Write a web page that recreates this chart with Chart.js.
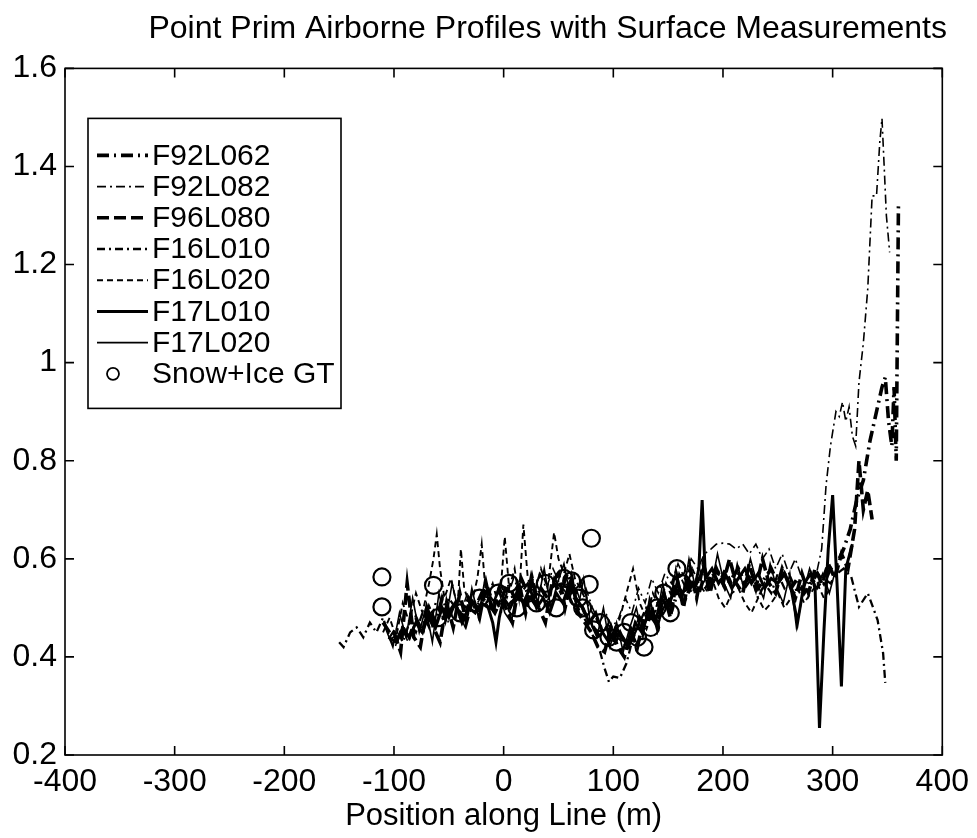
<!DOCTYPE html>
<html>
<head>
<meta charset="utf-8">
<script src="https://cdn.jsdelivr.net/npm/chart.js@4.4.1/dist/chart.umd.min.js"></script>
<style>
  html, body { margin: 0; padding: 0; background: #fff; }
  #wrap { width: 977px; height: 838px; }
</style>
</head>
<body>
<div id="wrap"><canvas id="myChart" width="977" height="838"></canvas></div>
<script>
// tick labels
var xTickLabels = ['-400', '-300', '-200', '-100', '0', '100', '200', '300', '400'];
var yTickLabels = ['0.2', '0.4', '0.6', '0.8', '1', '1.2', '1.4', '1.6'];

// F92L062 - thick dash-dot
var f92l062X = [-110,-104,-98,-92,-86,-80,-74,-68,-62,-56,
  -50,-44,-38,-32,-26,-20,-14,-8,-2,4,
  10,16,22,28,34,40,46,52,58,64,
  70,76,82,88,94,100,106,112,118,124,
  130,136,142,148,154,160,166,172,178,184,
  190,196,202,208,214,220,226,232,238,244,
  250,256,262,268,274,280,286,292,298,304,
  310,316,322,328,334,340,345,348,351,354,
  356,358,360];
var f92l062Y = [0.47,0.45,0.43,0.46,0.44,0.48,0.45,0.50,0.47,0.52,
  0.49,0.51,0.48,0.52,0.50,0.53,0.51,0.49,0.52,0.55,
  0.52,0.56,0.53,0.51,0.54,0.52,0.55,0.53,0.57,0.54,
  0.51,0.48,0.46,0.44,0.46,0.43,0.45,0.42,0.44,0.48,
  0.46,0.50,0.48,0.52,0.50,0.54,0.52,0.55,0.53,0.57,
  0.55,0.57,0.54,0.56,0.58,0.55,0.57,0.54,0.56,0.58,
  0.55,0.57,0.54,0.56,0.53,0.55,0.57,0.55,0.58,0.59,
  0.62,0.66,0.72,0.76,0.84,0.90,0.95,0.97,0.88,0.83,
  0.95,0.80,1.32];

// F92L082 - thin dash-dot
var f92l082X = [-105,-99,-93,-87,-81,-75,-69,-63,-57,-51,
  -45,-39,-33,-27,-21,-15,-9,-3,3,9,
  15,21,27,33,39,45,51,57,63,69,
  75,81,87,93,99,105,111,117,123,129,
  135,141,147,153,159,165,171,177,183,189,
  194,200,206,212,218,224,230,236,242,248,
  254,260,266,272,278,284,290,294,298,303,
  306,309,312,315,318,321,324,328,332,336,
  340,343,345,347,349,352];
var f92l082Y = [0.44,0.42,0.46,0.43,0.47,0.45,0.48,0.46,0.50,0.47,
  0.51,0.49,0.53,0.50,0.52,0.55,0.51,0.54,0.52,0.56,
  0.53,0.55,0.52,0.57,0.54,0.58,0.55,0.53,0.56,0.52,
  0.54,0.50,0.47,0.49,0.46,0.48,0.52,0.49,0.54,0.51,
  0.56,0.53,0.57,0.55,0.59,0.56,0.60,0.58,0.61,0.62,
  0.63,0.632,0.63,0.62,0.63,0.61,0.63,0.60,0.62,0.58,
  0.61,0.57,0.60,0.56,0.55,0.557,0.62,0.75,0.83,0.90,
  0.89,0.92,0.88,0.91,0.85,0.83,0.96,1.04,1.15,1.34,
  1.34,1.45,1.498,1.40,1.30,1.225];

// F96L080 - thick dashed
var f96l080X = [-100,-94,-88,-82,-76,-70,-64,-58,-52,-46,
  -40,-34,-28,-22,-16,-10,-4,2,8,14,
  20,26,32,38,44,50,56,62,68,74,
  80,86,92,98,104,110,116,122,128,134,
  140,146,152,158,164,170,176,182,188,194,
  200,206,212,218,224,230,236,242,248,254,
  260,266,272,278,284,290,296,302,308,314,
  320,324,328,332,336];
var f96l080Y = [0.45,0.41,0.55,0.44,0.42,0.50,0.46,0.43,0.51,0.46,
  0.53,0.47,0.52,0.48,0.55,0.49,0.54,0.50,0.47,0.55,
  0.49,0.56,0.50,0.47,0.55,0.57,0.50,0.56,0.49,0.47,
  0.45,0.42,0.41,0.46,0.42,0.40,0.45,0.42,0.48,0.51,
  0.46,0.53,0.48,0.56,0.50,0.58,0.52,0.59,0.53,0.58,
  0.55,0.60,0.55,0.53,0.59,0.54,0.60,0.55,0.53,0.58,
  0.55,0.52,0.57,0.53,0.58,0.55,0.59,0.56,0.61,0.58,
  0.66,0.80,0.70,0.74,0.68];

// F16L010 - dash-dot
var f16l010X = [-150,-146,-140,-134,-128,-122,-116,-110,-104,-98,
  -92,-86,-80,-74,-68,-62,-56,-50,-44,-38,
  -32,-26,-20,-14,-8,-2,4,10,16,22,
  28,34,40,46,52,58,64,70,76,82,
  88,92,96,100,106,112,118,124,130,136,
  142,148,154,160,166,172,178,184,190,196,
  202,208,214,220,226,232,238,244,250,256,
  262,268,274,280,286,292,298,304,310,317,
  324,332,337,341,346,348];
var f16l010Y = [0.43,0.42,0.45,0.46,0.44,0.47,0.45,0.48,0.44,0.46,
  0.43,0.47,0.45,0.49,0.46,0.51,0.48,0.52,0.50,0.47,
  0.51,0.49,0.53,0.50,0.52,0.49,0.54,0.51,0.53,0.55,
  0.52,0.54,0.51,0.56,0.53,0.55,0.52,0.49,0.47,0.44,
  0.41,0.377,0.349,0.36,0.357,0.387,0.44,0.47,0.50,0.48,
  0.52,0.50,0.54,0.52,0.55,0.53,0.56,0.54,0.57,0.55,
  0.58,0.55,0.57,0.54,0.56,0.52,0.55,0.53,0.57,0.54,
  0.56,0.53,0.55,0.57,0.54,0.56,0.55,0.57,0.58,0.563,
  0.502,0.53,0.50,0.475,0.408,0.347];

// F16L020 - thin dashed
var f16l020X = [-110,-104,-98,-92,-86,-80,-74,-68,-64,-61,
  -58,-54,-48,-42,-39,-36,-30,-24,-20,-16,
  -10,-4,1,5,10,14,18,22,28,34,
  40,46,50,55,60,65,72,78,84,90,
  96,100,106,112,118,124,130,136,142,148,
  154,160,166,172,178,184,190,196,202,208,
  214,220,226,232,238,244,250,256,262,268,
  274,280,286,292,298];
var f16l020Y = [0.45,0.48,0.44,0.51,0.47,0.53,0.49,0.55,0.60,0.65,
  0.58,0.52,0.56,0.50,0.62,0.54,0.50,0.56,0.63,0.52,
  0.55,0.50,0.645,0.54,0.58,0.52,0.67,0.56,0.53,0.58,
  0.54,0.654,0.60,0.57,0.61,0.56,0.53,0.50,0.48,0.45,
  0.47,0.43,0.48,0.53,0.58,0.51,0.48,0.53,0.50,0.55,
  0.52,0.57,0.54,0.58,0.55,0.53,0.56,0.52,0.50,0.53,
  0.54,0.51,0.49,0.52,0.495,0.51,0.53,0.50,0.52,0.54,
  0.51,0.53,0.55,0.52,0.54];

// F17L010 - thick solid
var f17l010X = [-105,-98,-92,-86,-80,-74,-68,-62,-56,-50,
  -44,-38,-32,-26,-20,-14,-10,-7,-4,0,
  6,12,18,24,30,36,42,48,54,60,
  66,72,78,84,90,96,102,108,114,120,
  126,132,138,144,150,156,162,168,174,178,
  181,184,190,196,202,208,214,220,226,232,
  238,244,250,256,262,268,274,280,284,288,
  292,296,300,304,308,312,318];
var f17l010Y = [0.44,0.43,0.46,0.44,0.47,0.45,0.49,0.46,0.50,0.48,
  0.51,0.47,0.50,0.49,0.51,0.50,0.47,0.43,0.48,0.52,
  0.50,0.53,0.51,0.54,0.50,0.52,0.49,0.53,0.51,0.55,
  0.52,0.50,0.47,0.49,0.45,0.43,0.46,0.44,0.42,0.47,
  0.45,0.49,0.47,0.52,0.50,0.54,0.52,0.56,0.54,0.58,
  0.72,0.56,0.58,0.55,0.57,0.54,0.56,0.58,0.55,0.57,
  0.54,0.56,0.55,0.57,0.54,0.47,0.55,0.57,0.54,0.255,
  0.45,0.62,0.73,0.55,0.34,0.58,0.63];

// F17L020 - thin solid
var f17l020X = [-108,-101,-95,-89,-83,-77,-71,-65,-59,-53,
  -47,-41,-35,-29,-23,-17,-11,-5,1,7,
  13,19,25,31,37,43,49,55,61,67,
  73,79,85,91,97,103,109,115,121,127,
  133,139,145,151,157,163,169,175,183,189,
  195,201,207,213,219,225,231,237,243,249,
  255,261,267,273,279,285,291,297,303];
var f17l020Y = [0.46,0.42,0.49,0.44,0.52,0.45,0.50,0.43,0.53,0.47,
  0.55,0.49,0.46,0.54,0.48,0.56,0.50,0.54,0.49,0.47,
  0.55,0.50,0.57,0.51,0.58,0.50,0.55,0.59,0.52,0.49,
  0.56,0.47,0.44,0.50,0.42,0.47,0.41,0.46,0.50,0.44,
  0.52,0.47,0.55,0.49,0.58,0.52,0.60,0.54,0.59,0.54,
  0.61,0.55,0.52,0.59,0.54,0.60,0.55,0.52,0.59,0.54,
  0.51,0.57,0.46,0.53,0.58,0.54,0.57,0.53,0.58];

// Snow+Ice ground truth
var gtX = [-111,-111,-64,-60,-40,-22,-5,5,12,22,
  30,38,48,55,62,68,72,78,80,82,
  88,96,103,110,116,122,128,134,140,146,
  152,158,162];
var gtY = [0.563,0.502,0.546,0.48,0.49,0.52,0.53,0.55,0.50,0.53,
  0.51,0.55,0.50,0.56,0.555,0.52,0.50,0.548,0.642,0.455,
  0.47,0.44,0.43,0.45,0.47,0.44,0.42,0.46,0.50,0.53,
  0.49,0.58,0.55];

function pts(xs, ys) {
  return xs.map(function (x, i) { return { x: x, y: ys[i] }; });
}
function line(label, xs, ys, width, dash) {
  return {
    label: label, data: pts(xs, ys), borderColor: '#000', backgroundColor: '#000',
    borderWidth: width, borderDash: dash, pointRadius: 0, showLine: true,
    tension: 0, fill: false
  };
}

var FONT = '"Liberation Sans", Arial, Helvetica, sans-serif';

// matlab-ish box, inward ticks and boxed legend
var matlabBox = {
  id: 'matlabBox',
  afterDraw: function (chart) {
    var ctx = chart.ctx, a = chart.chartArea, xs = chart.scales.x, ys = chart.scales.y;
    ctx.save();
    ctx.strokeStyle = '#000';
    ctx.lineWidth = 1.6;
    ctx.setLineDash([]);
    ctx.strokeRect(a.left, a.top, a.right - a.left, a.bottom - a.top);
    ctx.beginPath();
    xs.ticks.forEach(function (t) {
      var p = xs.getPixelForValue(t.value);
      ctx.moveTo(p, a.bottom); ctx.lineTo(p, a.bottom - 9);
      ctx.moveTo(p, a.top); ctx.lineTo(p, a.top + 9);
    });
    ys.ticks.forEach(function (t) {
      var p = ys.getPixelForValue(t.value);
      ctx.moveTo(a.left, p); ctx.lineTo(a.left + 9, p);
      ctx.moveTo(a.right, p); ctx.lineTo(a.right - 9, p);
    });
    ctx.stroke();

    // legend
    var bx = a.left + 23, by = a.top + 50, bw = 253, bh = 290;
    ctx.fillStyle = '#fff';
    ctx.fillRect(bx, by, bw, bh);
    ctx.lineWidth = 1.6;
    ctx.strokeRect(bx, by, bw, bh);
    ctx.font = '30px ' + FONT;
    ctx.textBaseline = 'middle';
    ctx.textAlign = 'left';
    ctx.fillStyle = '#000';
    chart.data.datasets.forEach(function (ds, i) {
      var yy = by + 37 + i * 31.2;
      if (ds.showLine) {
        ctx.beginPath();
        ctx.lineWidth = ds.borderWidth;
        ctx.setLineDash(ds.borderDash || []);
        ctx.moveTo(bx + 9, yy);
        ctx.lineTo(bx + 60, yy);
        ctx.stroke();
        ctx.setLineDash([]);
      } else {
        ctx.beginPath();
        ctx.lineWidth = 1.8;
        ctx.arc(bx + 25, yy, 6, 0, Math.PI * 2);
        ctx.stroke();
      }
      ctx.fillText(ds.label, bx + 64, yy + 1);
    });
    ctx.restore();
  }
};

var ctx = document.getElementById('myChart').getContext('2d');
var myChart = new Chart(ctx, {
  type: 'scatter',
  data: {
    datasets: [
      line('F92L062', f92l062X, f92l062Y, 3.6, [12, 5, 2, 5]),
      line('F92L082', f92l082X, f92l082Y, 1.6, [9, 4, 2, 4]),
      line('F96L080', f96l080X, f96l080Y, 3.6, [12, 5]),
      line('F16L010', f16l010X, f16l010Y, 2.3, [8, 4, 2, 4]),
      line('F16L020', f16l020X, f16l020Y, 1.9, [6, 4]),
      line('F17L010', f17l010X, f17l010Y, 3, []),
      line('F17L020', f17l020X, f17l020Y, 1.6, []),
      {
        label: 'Snow+Ice GT', data: pts(gtX, gtY), showLine: false,
        pointStyle: 'circle', pointRadius: 8.5, pointBorderWidth: 2.2,
        borderColor: '#000', backgroundColor: 'rgba(0,0,0,0)'
      }
    ]
  },
  options: {
    responsive: false,
    animation: false,
    layout: { padding: { left: 0, right: 30, top: 0, bottom: 0 } },
    plugins: {
      legend: { display: false },
      tooltip: { enabled: false },
      title: {
        display: true,
        text: 'Point Prim Airborne Profiles with Surface Measurements',
        align: 'end',
        color: '#000',
        font: { family: FONT, size: 32, weight: 'normal' },
        padding: { top: 10, bottom: 20 }
      }
    },
    scales: {
      x: {
        type: 'linear', min: -400, max: 400,
        grid: { display: false, drawTicks: false },
        border: { display: false },
        ticks: {
          stepSize: 100, autoSkip: false, maxRotation: 0, padding: 8, color: '#000',
          font: { family: FONT, size: 32 },
          callback: function (v, i) { return xTickLabels[i]; }
        },
        title: {
          display: true, text: 'Position along Line (m)', color: '#000',
          font: { family: FONT, size: 31 }, padding: { top: 0, bottom: 3 }
        },
        afterFit: function (s) { s.height = 83; }
      },
      y: {
        type: 'linear', min: 0.2, max: 1.6,
        grid: { display: false, drawTicks: false },
        border: { display: false },
        ticks: {
          stepSize: 0.2, padding: 8, color: '#000',
          font: { family: FONT, size: 32 },
          callback: function (v, i) { return yTickLabels[i]; }
        },
        afterFit: function (s) { s.width = 65; }
      }
    }
  },
  plugins: [matlabBox]
});
</script>
</body>
</html>
